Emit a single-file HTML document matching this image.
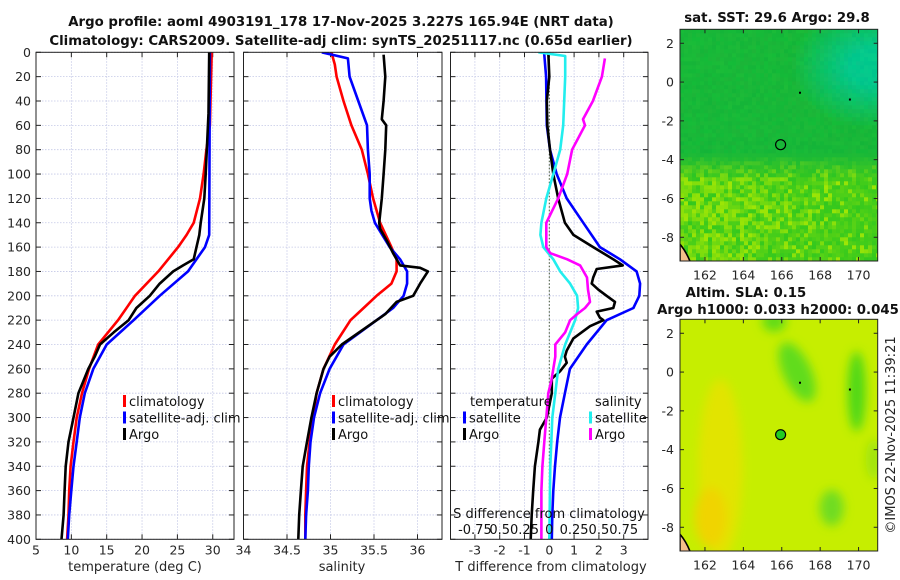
<!DOCTYPE html>
<html><head><meta charset="utf-8">
<style>
html,body{margin:0;padding:0;background:#fff;}
svg{display:block;font-family:"DejaVu Sans","Liberation Sans",sans-serif;}
</style></head>
<body>
<svg id="fig" width="900" height="580" viewBox="0 0 900 580" xmlns="http://www.w3.org/2000/svg">
<defs>
<clipPath id="c1"><rect x="36" y="52" width="198" height="488"/></clipPath>
<clipPath id="c2"><rect x="243.5" y="52" width="198.5" height="488"/></clipPath>
<clipPath id="c3"><rect x="450.5" y="52" width="197.5" height="488"/></clipPath>
<clipPath id="cm1"><rect x="680" y="29.3" width="197.7" height="231.7"/></clipPath>
<clipPath id="cm2"><rect x="680" y="319.3" width="197.7" height="231.7"/></clipPath>
<filter id="blur" x="-50%" y="-50%" width="200%" height="200%"><feGaussianBlur stdDeviation="5"/></filter>
</defs>
<g id="root"></g>
</svg>
<script>
// ---------- DATA ----------
const tempTicks = [5,10,15,20,25,30];
const salTicks = [34,34.5,35,35.5,36];
const diffTicks = [-3,-2,-1,0,1,2,3];
const sDiffTickLabels = ["-0.75","0.5","0.25","0","0.25","0.5","0.75"];
const depthTicks = [0,20,40,60,80,100,120,140,160,180,200,220,240,260,280,300,320,340,360,380,400];

const climTDepth = [0,60,80,100,120,140,150,160,180,200,220,240,260,280,300,320,340,360,380,400];
const climT      = [29.85,29.6,29.1,28.7,28.2,27.3,26.3,25.1,22.3,19.0,16.6,13.8,12.5,11.5,10.75,10.3,9.9,9.7,9.6,9.4];
const satTDepth  = [0,150,160,180,200,220,240,260,280,300,320,340,360,380,400];
const satT       = [29.6,29.5,28.9,26.5,22.5,18.8,15.0,13.1,11.9,11.2,10.75,10.3,10.0,9.7,9.5];
const argoTDepth = [0,50,100,120,140,150,160,170,175,180,190,200,210,220,230,240,250,260,270,280,300,320,340,360,380,400];
const argoT      = [29.5,29.4,29.0,28.8,28.3,28.1,27.7,27.3,25.8,24.4,22.5,21.1,19.2,18.1,16.0,14.05,13.3,12.4,11.7,11.0,10.3,9.6,9.2,9.05,8.9,8.6];

const climSDepth = [0,10,20,40,60,80,100,120,140,160,170,180,190,200,210,220,240,260,280,300,320,340,360,380,400];
const climS      = [35.01,35.05,35.07,35.15,35.24,35.36,35.43,35.49,35.57,35.70,35.76,35.76,35.70,35.53,35.38,35.23,35.05,34.92,34.84,34.80,34.76,34.73,34.72,34.71,34.71];
const satSDepth  = [0,5,20,40,60,80,100,120,130,140,160,170,180,190,200,210,220,240,260,280,300,320,340,360,380,400];
const satS       = [34.90,35.20,35.22,35.32,35.42,35.43,35.45,35.45,35.47,35.51,35.68,35.80,35.88,35.88,35.84,35.72,35.53,35.15,34.99,34.88,34.81,34.77,34.75,34.74,34.72,34.71];
const argoSDepth = [2,20,40,55,60,80,100,120,140,145,155,165,175,177,180,190,200,205,215,220,240,250,260,280,300,320,340,360,380,400];
const argoS      = [35.61,35.63,35.61,35.59,35.64,35.63,35.61,35.59,35.56,35.57,35.65,35.72,35.80,36.03,36.12,36.03,35.95,35.76,35.63,35.53,35.13,34.99,34.92,34.84,34.78,34.73,34.68,34.66,34.64,34.63];

const dTSatDepth = [0,20,60,80,100,120,140,160,170,180,190,200,210,220,240,260,280,300,320,340,360,380,400];
const dTSat      = [-0.21,-0.13,-0.1,0.03,0.3,0.7,1.37,2.04,2.85,3.52,3.66,3.63,3.39,2.31,1.51,0.83,0.63,0.43,0.32,0.23,0.16,0.12,0.1];
const dTArgoDepth= [0,20,40,60,80,100,120,140,150,160,170,175,178,185,190,195,200,205,210,213,218,220,225,235,245,250,255,262,268,280,300,310,320,340,360,380,400];
const dTArgo     = [-0.04,0,-0.1,-0.08,0.03,0.16,0.36,0.63,0.97,1.77,2.58,2.96,1.91,1.77,1.71,1.98,2.31,2.65,2.58,1.91,2.04,2.18,1.64,0.97,0.70,0.63,0.70,0.43,0.1,0.1,-0.1,-0.38,-0.44,-0.58,-0.65,-0.71,-0.75];
const dSSatDepth = [0,3,20,60,80,100,120,140,150,160,170,180,190,200,210,220,240,260,280,300,320,340,400];
const dSSat      = [-0.11,0.16,0.16,0.14,0.11,0.04,-0.03,-0.08,-0.09,-0.06,0.04,0.11,0.21,0.28,0.29,0.26,0.16,0.09,0.06,0.03,0.02,0.01,0];
const dSArgoDepth= [5,20,40,55,60,80,100,120,140,150,160,165,170,175,185,195,205,210,215,220,230,240,250,260,270,280,300,320,340,360,380,400];
const dSArgo     = [0.56,0.53,0.44,0.34,0.36,0.23,0.18,0.09,-0.03,-0.03,-0.03,0.01,0.18,0.31,0.38,0.39,0.41,0.36,0.28,0.21,0.16,0.06,0.06,0.04,0.02,-0.01,-0.03,-0.05,-0.07,-0.08,-0.08,-0.08];

const mapLonTicks = [162,164,166,168,170];
const mapLatTicks = [2,0,-2,-4,-6,-8];
const argoLon = 165.94, argoLat = -3.227;

// ---------- SCALES ----------
const Y0=52.3, YS=1.2175;
const yD = d => Y0 + d*YS;
const xT = t => 36 + (t-5)*7.07;
const xS = s => 243.5 + (s-34)*87;
const xD = v => 549.3 + v*24.8;
const xSD = s => xD(s*4);
const NS="http://www.w3.org/2000/svg";
const root=document.getElementById('root');
function mk(tag, attrs, parent){const e=document.createElementNS(NS,tag);for(const k in attrs)e.setAttribute(k,attrs[k]);(parent||root).appendChild(e);return e;}
function txt(s,x,y,opts,parent){const e=mk('text',Object.assign({x:x,y:y,'font-size':12.5,fill:'#262626'},opts||{}),parent);e.textContent=s;return e;}

// ---------- PANELS ----------
const panels=[
 {x0:36,x1:234,ticks:tempTicks,fx:xT,name:'temperature-panel',clip:'c1',title:'temperature (deg C)',tc:135},
 {x0:243.5,x1:442,ticks:salTicks,fx:xS,name:'salinity-panel',clip:'c2',title:'salinity',tc:342},
 {x0:450.5,x1:648,ticks:diffTicks,fx:xD,name:'difference-panel',clip:'c3',title:'T difference from climatology',tc:551}
];
const yTop=Y0, yBot=yD(400);
panels.forEach((p,pi)=>{
  const g=mk('g',{});
  
  
  p.ticks.forEach(t=>{const x=p.fx(t);mk('line',{x1:x,y1:yTop,x2:x,y2:yBot,stroke:'#c4c8e6','stroke-width':0.8,'stroke-dasharray':'1.5,1.5'},g);});
  depthTicks.forEach(d=>{const y=yD(d);mk('line',{x1:p.x0,y1:y,x2:p.x1,y2:y,stroke:'#c4c8e6','stroke-width':0.8,'stroke-dasharray':'1.5,1.5'},g);});
  depthTicks.forEach(d=>{const y=yD(d);
    mk('line',{x1:p.x0,y1:y,x2:p.x0+5,y2:y,stroke:'#222','stroke-width':1},g);
    mk('line',{x1:p.x1,y1:y,x2:p.x1-5,y2:y,stroke:'#222','stroke-width':1},g);
    if(pi===0){const l=txt(String(d),31,y+4.5,{'text-anchor':'end'},g);}
  });
  p.ticks.forEach(t=>{const x=p.fx(t);
    mk('line',{x1:x,y1:yTop,x2:x,y2:yTop+5,stroke:'#222','stroke-width':1},g);
    mk('line',{x1:x,y1:yBot,x2:x,y2:yBot-5,stroke:'#222','stroke-width':1},g);
    const l=txt(String(t),x,yBot+15,{'text-anchor':'middle'},g);
    
    
  });
  const tt=txt(p.title,p.tc,571,{'text-anchor':'middle','font-size':13},g);
  
  
});
mk('line',{x1:xD(0),y1:yTop,x2:xD(0),y2:yBot,stroke:'#445533','stroke-width':1,'stroke-dasharray':'1.5,2'});

function series(depths,vals,fx,color,clip,name){
  const pts=depths.map((d,i)=>fx(vals[i]).toFixed(1)+','+yD(d).toFixed(1)).join(' ');
  const e=mk('polyline',{points:pts,fill:'none',stroke:color,'stroke-width':2.6,'stroke-linejoin':'round','clip-path':'url(#'+clip+')'});
  
  
}
series(climTDepth,climT,xT,'#ff0000','c1','temp-climatology-line');
series(satTDepth,satT,xT,'#0000ff','c1','temp-satellite-line');
series(argoTDepth,argoT,xT,'#000000','c1','temp-argo-line');
series(climSDepth,climS,xS,'#ff0000','c2','sal-climatology-line');
series(satSDepth,satS,xS,'#0000ff','c2','sal-satellite-line');
series(argoSDepth,argoS,xS,'#000000','c2','sal-argo-line');
series(dTSatDepth,dTSat,xD,'#0000ff','c3','tdiff-satellite-line');
series(dTArgoDepth,dTArgo,xD,'#000000','c3','tdiff-argo-line');
series(dSSatDepth,dSSat,xSD,'#22eeee','c3','sdiff-satellite-line');
series(dSArgoDepth,dSArgo,xSD,'#ff00ff','c3','sdiff-argo-line');

panels.forEach(p=>{mk('rect',{x:p.x0,y:yTop,width:p.x1-p.x0,height:yBot-yTop,fill:'none',stroke:'#222','stroke-width':1});});

function legItem(x,y,color,label,name){
  const g=mk('g',{});
  
  
  mk('rect',{x:x,y:y-11,width:3,height:12,fill:color},g);
  txt(label,x+6,y,{'font-size':13,fill:'#111'},g);
}
legItem(123,406,'#ff0000','climatology','legend-climatology');
legItem(123,422.5,'#0000ff','satellite-adj. clim','legend-satellite');
legItem(123,439,'#000000','Argo','legend-argo');
legItem(332,406,'#ff0000','climatology','legend-sal-climatology');
legItem(332,422.5,'#0000ff','satellite-adj. clim','legend-sal-satellite');
legItem(332,439,'#000000','Argo','legend-sal-argo');
txt('temperature',470,406,{'font-size':13,fill:'#111'});
txt('salinity',595,406,{'font-size':13,fill:'#111'});
legItem(463,422.5,'#0000ff','satellite','legend-tdiff-satellite');
legItem(463,439,'#000000','Argo','legend-tdiff-argo');
legItem(589,422.5,'#22eeee','satellite','legend-sdiff-satellite');
legItem(589,439,'#ff00ff','Argo','legend-sdiff-argo');
txt('S difference from climatology',549,518,{'text-anchor':'middle','font-size':13,fill:'#111'});
sDiffTickLabels.forEach((s,i)=>{const l=txt(s,xD(diffTicks[i]),534,{'text-anchor':'middle','font-size':13,fill:'#111'});});

txt('Argo profile: aoml 4903191_178 17-Nov-2025 3.227S 165.94E (NRT data)',341,26,{'text-anchor':'middle','font-size':13.3,'font-weight':'bold',fill:'#111'});
txt('Climatology: CARS2009. Satellite-adj clim: synTS_20251117.nc (0.65d earlier)',341,45,{'text-anchor':'middle','font-size':13.3,'font-weight':'bold',fill:'#111'});

// ---------- MAPS ----------
const mx = lon => 680 + (lon-160.7)*19.2;
function hash(i,j){let h=(i*374761393+j*668265263)^0x5bd1e995;h=(h^(h>>>13))*1274126177;return ((h^(h>>>16))>>>0)/4294967296;}
function drawMap(top,kind,name){
  const my = lat => top + (2.72-lat)*19.4;
  const g=mk('g',{'clip-path':'url(#'+(kind===1?'cm1':'cm2')+')'});
  
  
  if(kind===1){
    const cs=4;
    for(let i=0;i<50;i++)for(let j=0;j<59;j++){
      const x=680+i*cs,y=top+j*cs;
      const lon=160.7+(i*cs)/19.2, lat=2.72-(j*cs)/19.4;
      const n=hash(i,j), n2=hash(j+7,i+3);
      let r=24,gg=184,b=56;
      const tdist=Math.hypot((lon-170.6)/4.2,(lat-0.9)/3.2);
      const tw=Math.max(0,Math.min(1,(1-tdist)*1.4));
      r=r*(1-tw)+4*tw; gg=gg*(1-tw)+200*tw; b=b*(1-tw)+140*tw;
      // southward transition
      let s=Math.max(0,Math.min(1,(-3.6-lat)/1.4));
      if(s>0){
        const bias=Math.min(1,Math.max(0,(170-lon)/8))*0.55+0.15;
        const f=n<bias?(0.45+n2*0.55):n2*0.35;
        const R=50+f*110, G=200+f*30, B=30-f*25;
        r=r*(1-s)+R*s; gg=gg*(1-s)+G*s; b=b*(1-s)+B*s;
      } else { r+=(n-0.5)*10; gg+=(n2-0.5)*8; }
      mk('rect',{x:x,y:y,width:cs+0.3,height:cs+0.3,fill:'rgb('+Math.round(r)+','+Math.round(gg)+','+Math.round(Math.max(0,b))+')'},g);
    }
  } else {
    mk('rect',{x:680,y:top,width:198,height:232,fill:'#c6ee00'},g);
    const gb=mk('g',{filter:'url(#blur)'},g);
    mk('ellipse',{cx:mx(162.8),cy:my(-5),rx:22,ry:90,fill:'#e2e400'},gb);
    mk('ellipse',{cx:mx(162.3),cy:my(-7.5),rx:16,ry:30,fill:'#f0d400'},gb);
    mk('ellipse',{cx:mx(166.8),cy:my(0),rx:14,ry:32,fill:'#60dc1a',transform:'rotate(-25 '+mx(166.8)+' '+my(0)+')'},gb);
    mk('ellipse',{cx:mx(169.9),cy:my(-1),rx:9,ry:40,fill:'#50d818'},gb);
    mk('ellipse',{cx:mx(168.6),cy:my(-7),rx:12,ry:18,fill:'#70dc20'},gb);
    mk('ellipse',{cx:mx(165.6),cy:my(2.6),rx:12,ry:10,fill:'#60dc18'},gb);
    mk('ellipse',{cx:mx(170.8),cy:my(-4.5),rx:8,ry:20,fill:'#a0e410'},gb);
  }
  mk('path',{d:'M680,'+(top+215)+' Q686,'+(top+222)+' 690,'+(top+232)+' L680,'+(top+232)+' Z',fill:'#f5bf8a',stroke:'#000','stroke-width':1.6},g);
  const f=mk('g',{});
  mk('rect',{x:680,y:top,width:197.7,height:231.7,fill:'none',stroke:'#222','stroke-width':1},f);
  mapLonTicks.forEach(l=>{const x=mx(l);
    mk('line',{x1:x,y1:top,x2:x,y2:top+4,stroke:'#222'},f);
    mk('line',{x1:x,y1:top+231.7,x2:x,y2:top+227.7,stroke:'#222'},f);
    const t=txt(String(l),x,top+250,{'text-anchor':'middle'},f);
    
    
  });
  mapLatTicks.forEach(l=>{const y=my(l);
    mk('line',{x1:680,y1:y,x2:684,y2:y,stroke:'#222'},f);
    mk('line',{x1:877.7,y1:y,x2:873.7,y2:y,stroke:'#222'},f);
    const t=txt(String(l),674,y+4.5,{'text-anchor':'end'},f);
    
    
  });
  const m=mk('circle',{cx:mx(argoLon),cy:my(argoLat),r:5,fill:kind===1?'none':'#22cc22',stroke:'#000','stroke-width':1.2});
  
  
  mk('rect',{x:mx(166.95)-1,y:my(-0.55)-1,width:2,height:2,fill:'#000'});
  mk('rect',{x:mx(169.55)-1,y:my(-0.9)-1,width:2,height:2,fill:'#000'});
}
drawMap(29.3,1,'sst-map');
drawMap(319.3,2,'sla-map');
txt('sat. SST: 29.6 Argo: 29.8',777,22,{'text-anchor':'middle','font-size':13.3,'font-weight':'bold',fill:'#111'});
txt('Altim. SLA: 0.15',746,297,{'text-anchor':'middle','font-size':13.3,'font-weight':'bold',fill:'#111'});
txt('Argo h1000: 0.033 h2000: 0.045',778,314,{'text-anchor':'middle','font-size':13.3,'font-weight':'bold',fill:'#111'});
txt('©IMOS 22-Nov-2025 11:39:21',895,435,{'text-anchor':'middle','font-size':13,fill:'#222',transform:'rotate(-90 895 435)'});
</script>
</body></html>
